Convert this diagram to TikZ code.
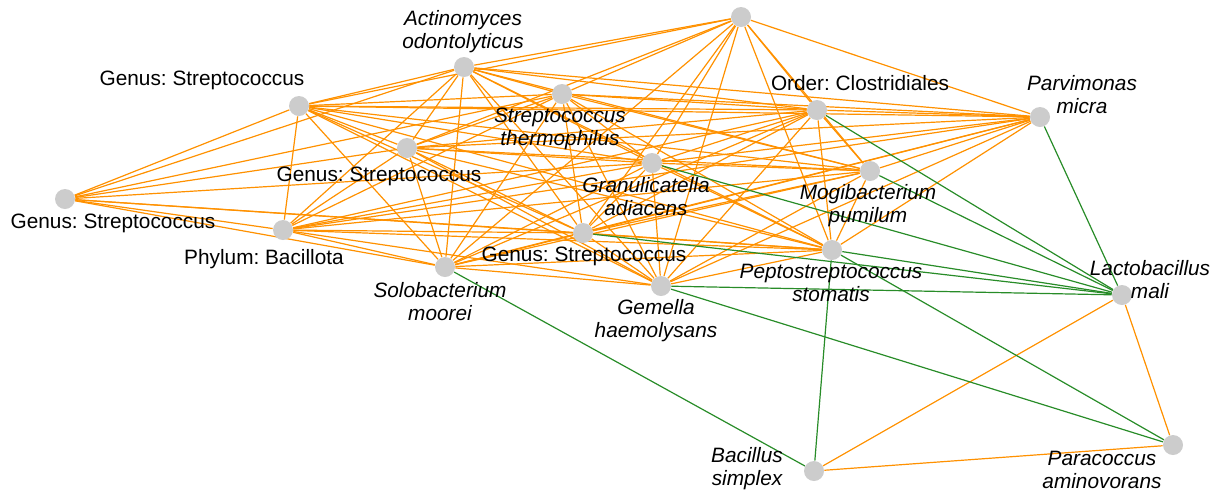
\documentclass[tikz,border=0pt]{standalone}
\usepackage{fontspec}
\setmainfont{Liberation Sans}
\usetikzlibrary{backgrounds}
\frenchspacing
\definecolor{nodegray}{RGB}{204,204,204}
\definecolor{edgeorange}{RGB}{255,145,0}
\definecolor{edgegreen}{RGB}{40,140,40}
\tikzset{
  taxon/.style={circle,fill=nodegray,minimum size=10pt,inner sep=0pt},
  lab/.style={align=center,inner sep=0pt,font=\fontsize{10.4}{11.5}\selectfont},
  species/.style={lab,font=\fontsize{10.4}{11.5}\selectfont\itshape},
  oedge/.style={edgeorange,line width=0.6pt},
  gedge/.style={edgegreen,line width=0.6pt}
}
\begin{document}
\begin{tikzpicture}[x=0.5pt,y=-0.5pt]
  \useasboundingbox (0,0) rectangle (1216,494);
  % taxa
  \node[taxon] (t)  at (741,17)  {};
  \node[taxon] (a)  at (464,67)  {};
  \node[taxon] (g1) at (299,106) {};
  \node[taxon] (st) at (562,94)  {};
  \node[taxon] (o)  at (817,110) {};
  \node[taxon] (p)  at (1040,117) {};
  \node[taxon] (g2) at (407,148) {};
  \node[taxon] (ga) at (652,163) {};
  \node[taxon] (m)  at (870,171) {};
  \node[taxon] (g3) at (65,199)  {};
  \node[taxon] (pb) at (283,230) {};
  \node[taxon] (g4) at (583,233) {};
  \node[taxon] (ps) at (832,250) {};
  \node[taxon] (sm) at (445,267) {};
  \node[taxon] (gh) at (661,286) {};
  \node[taxon] (l)  at (1122,295) {};
  \node[taxon] (b)  at (814,471) {};
  \node[taxon] (pa) at (1173,445) {};
  % labels
  \node[species] (a-l)  at (463,32)  {Actinomyces\\odontolyticus};
  \node[lab]     (g1-l) at (202,80)  {Genus: Streptococcus};
  \node[species] (st-l) at (560,129) {Streptococcus\\thermophilus};
  \node[lab]     (o-l)  at (860,83)  {Order: Clostridiales};
  \node[species] (p-l)  at (1082,95) {Parvimonas\\micra};
  \node[lab]     (g2-l) at (379,176) {Genus: Streptococcus};
  \node[species] (ga-l) at (646,197) {Granulicatella\\adiacens};
  \node[species] (m-l)  at (868,206) {Mogibacterium\\pumilum};
  \node[lab]     (g3-l) at (113,223) {Genus: Streptococcus};
  \node[lab]     (pb-l) at (264,259) {Phylum: Bacillota};
  \node[lab]     (g4-l) at (584,256) {Genus: Streptococcus};
  \node[species] (ps-l) at (831,283) {Peptostreptococcus\\stomatis};
  \node[species] (sm-l) at (440,302) {Solobacterium\\moorei};
  \node[species] (gh-l) at (656,321) {Gemella\\haemolysans};
  \node[species] (l-l)  at (1150,280) {Lactobacillus\\mali};
  \node[species] (b-l)  at (747,469) {Bacillus\\simplex};
  \node[species] (pa-l) at (1102,470) {Paracoccus\\aminovorans};
  % edges
  \begin{scope}[on background layer]
    \foreach \u/\vs in {g1/{a,st,g2,ga,m,o,pb,g4,ps,sm,gh},
                        a/{st,g2,ga,m,o,pb,g4,ps,sm,gh},
                        st/{g2,ga,m,o,pb,g4,ps,sm,gh},
                        g2/{ga,m,o,pb,g4,ps,sm,gh},
                        ga/{m,o,pb,g4,ps,sm,gh},
                        m/{o,pb,g4,ps,sm,gh},
                        o/{pb,g4,ps,sm,gh},
                        pb/{g4,ps,sm,gh},
                        g4/{ps,sm,gh},
                        ps/{sm,gh},
                        sm/{gh},
                        t/{a,g1,st,g2,ga,g4,gh,sm,ps,m,o,p},
                        p/{o,a,g1,st,g2,ga,m,pb,g4,ps,sm,gh},
                        g3/{g1,a,st,g2,ga,g4,ps,pb,sm},
                        l/{b,pa},
                        b/{pa}}
      \foreach \v in \vs
        \draw[oedge] (\u) -- (\v);
    \foreach \u/\v in {sm/b,ps/b,gh/pa,ps/pa,p/l,o/l,m/l,ga/l,ps/l,g4/l,gh/l}
      \draw[gedge] (\u) -- (\v);
  \end{scope}
\end{tikzpicture}
\end{document}
